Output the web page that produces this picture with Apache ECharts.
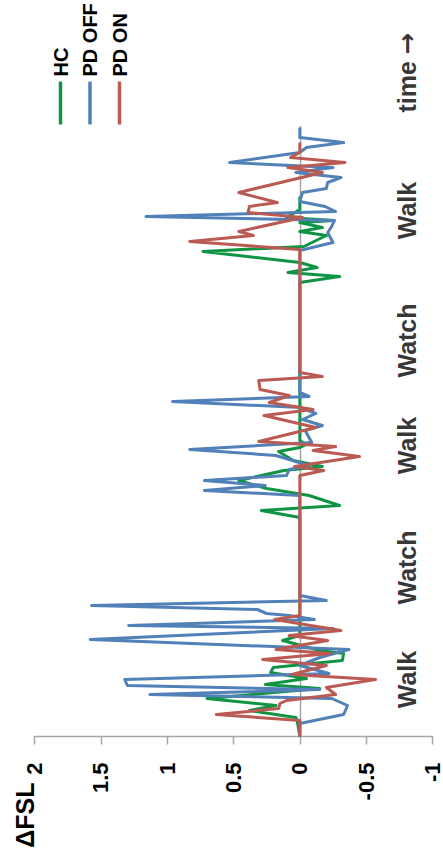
<!DOCTYPE html>
<html>
<head>
<meta charset="utf-8">
<script src="https://cdn.jsdelivr.net/npm/echarts@6/dist/echarts.min.js"></script>
<style>
  html, body { margin: 0; padding: 0; background: #fff; overflow: hidden; }
  body { width: 443px; height: 862px; position: relative; }
  /* the chart is laid out landscape and turned a quarter turn so time runs upward */
  #chart {
    position: absolute;
    width: 862px; height: 443px;
    left: -209.5px; top: 209.5px;
    transform: rotate(-90deg);
    transform-origin: 50% 50%;
  }
</style>
</head>
<body>
<div id="chart"></div>
<script>
// time in frames, ΔFSL per group
const hcTime  = [0, 16, 19, 26, 31, 38, 48, 52, 58, 64, 69, 76, 83, 86, 96, 101,
                 219, 226, 231, 241, 248, 256, 266, 270, 276, 285, 289, 292, 296,
                 454, 460, 464, 469, 474, 485, 490, 501, 505, 509, 514, 516, 519, 527, 540];
const hcValue = [0, 0.02, 0.03, 0.38, 0.18, 0.70, -0.15, 0.26, -0.05, 0.22, 0.2, -0.32, -0.33, -0.15, 0.13, 0,
                 0, 0.29, -0.3, -0.07, 0.25, 0.46, 0.12, -0.17, 0.05, 0.16, 0, -0.05, 0,
                 0, -0.3, 0.09, -0.13, 0, 0.73, -0.03, -0.2, 0, -0.17, 0, -0.26, 0.1, 0, 0];

const offTime  = [0, 13, 22, 31, 38, 42, 47, 51, 57, 63, 71, 79, 87, 97, 108, 111, 117, 121, 123, 127, 131, 136, 141,
                  241, 246, 251, 256, 261, 267, 271, 281, 287, 294, 306, 311, 317, 323, 329, 335, 340, 344,
                  486, 494, 504, 510, 516, 520, 525, 530, 535, 544, 548, 554, 559, 564, 569, 574, 584, 589, 594, 599, 609];
const offValue = [0, 0, -0.33, -0.36, -0.24, 1.13, -0.15, 1.30, 1.32, -0.22, 0, -0.15, -0.37, 1.58, -0.25, 1.29, -0.11, 0.08, 0.25, 0.32, 1.57, -0.2, 0,
                  0, 0.72, 0.26, 0.72, 0.1, 0.08, -0.07, 0.18, 0.83, -0.09, -0.04, -0.17, -0.02, -0.12, -0.01, 0.96, -0.07, 0,
                  0, -0.25, -0.21, -0.24, -0.26, 1.16, -0.27, -0.19, 0, -0.02, -0.2, -0.21, -0.31, 0.03, -0.25, 0.53, 0, -0.05, -0.33, 0, 0];

const onTime  = [0, 16, 22, 28, 33, 36, 42, 49, 57, 62, 71, 77, 83, 87, 96, 101, 106, 117, 121,
                 261, 266, 270, 280, 286, 290, 295, 309, 321, 327, 334, 341, 347, 356, 360, 364,
                 487, 495, 501, 505, 519, 524, 530, 534, 544, 564, 569, 574, 579, 584, 594];
const onValue = [0, 0, 0.63, 0.16, 0.15, 0.1, -0.27, -0.2, -0.57, 0.06, -0.2, 0.28, -0.23, 0.18, -0.21, 0.08, -0.31, 0.19, 0,
                 0, -0.18, 0.04, -0.45, -0.1, -0.27, 0.31, -0.12, 0.27, -0.1, 0.23, 0.08, 0.3, 0.31, -0.17, 0,
                 0, 0.83, 0.35, 0.46, -0.02, 0.39, 0.38, 0.17, 0.46, -0.17, 0.09, -0.34, 0.07, 0, 0];

// task phases along the time axis
const phaseNames = ['Walk', 'Watch', 'Walk', 'Watch', 'Walk', 'time \u2192'];
const phaseTimes = [57, 169, 291, 396, 526, 664];
const phaseLabelLevel = -0.81;

const seriesNames = ['HC', 'PD OFF', 'PD ON'];
const seriesColors = ['#0f9444', '#5181b8', '#bb5a52'];

const zip = (ts, vs) => ts.map((t, i) => [t, vs[i]]);
const FONT = '"Liberation Sans", Arial, sans-serif';

const chart = echarts.init(document.getElementById('chart'), null, { renderer: 'svg', width: 862, height: 443 });

const lineSeries = [[hcTime, hcValue], [offTime, offValue], [onTime, onValue]].map((d, i) => ({
  name: seriesNames[i],
  type: 'line',
  data: zip(d[0], d[1]),
  showSymbol: false,
  symbol: 'none',
  color: seriesColors[i],
  lineStyle: { width: 3, color: seriesColors[i], join: 'round' },
  silent: true,
  clip: false,
  z: 2 + i
}));

chart.setOption({
  animation: false,
  backgroundColor: '#fff',
  textStyle: { fontFamily: FONT },
  grid: { left: 126, right: 126, top: 34, bottom: 9, containLabel: false },
  legend: {
    data: seriesNames,
    orient: 'vertical',
    left: 738,
    top: 49,
    padding: 0,
    itemWidth: 43,
    itemHeight: 3.5,
    itemGap: 7.5,
    icon: 'roundRect',
    textStyle: { fontFamily: FONT, fontSize: 20, fontWeight: 'bold', color: '#000', lineHeight: 22 },
    selectedMode: false
  },
  xAxis: {
    type: 'value',
    min: 0,
    max: 610,
    axisLine: { show: true, onZero: true, lineStyle: { color: '#a6a6a6', width: 1.5 } },
    axisTick: { show: false },
    axisLabel: { show: false },
    splitLine: { show: false }
  },
  yAxis: {
    type: 'value',
    min: -1,
    max: 2,
    interval: 0.5,
    name: '\u0394FSL',
    nameLocation: 'end',
    nameGap: 10,
    nameTextStyle: {
      fontFamily: FONT, fontSize: 25, fontWeight: 'bold', color: '#000',
      align: 'right', verticalAlign: 'middle', padding: [0, 46, 0, 0]
    },
    axisLine: { show: true, lineStyle: { color: '#a6a6a6', width: 1.5 } },
    axisTick: { show: true, length: 8, lineStyle: { color: '#a6a6a6', width: 1.5 } },
    axisLabel: { fontFamily: FONT, fontSize: 22, fontWeight: 'bold', color: '#000', margin: 26 },
    splitLine: { show: false }
  },
  series: lineSeries.concat([{
    name: 'phases',
    type: 'scatter',
    symbolSize: 0,
    clip: false,
    silent: true,
    data: phaseNames.map((n, i) => ({ name: n, value: [phaseTimes[i], phaseLabelLevel] })),
    label: {
      show: true,
      position: 'inside',
      // the arrow is set in a face whose arrow glyph is heavy enough
      formatter: p => p.name.replace('\u2192', '{a|\u2192}'),
      fontFamily: FONT, fontSize: 25, fontWeight: 'bold', color: '#000',
      rich: {
        a: { fontFamily: '"DejaVu Sans", sans-serif', fontSize: 26, fontWeight: 'bold', color: '#000' }
      }
    },
    z: 10
  }])
});
</script>
</body>
</html>
